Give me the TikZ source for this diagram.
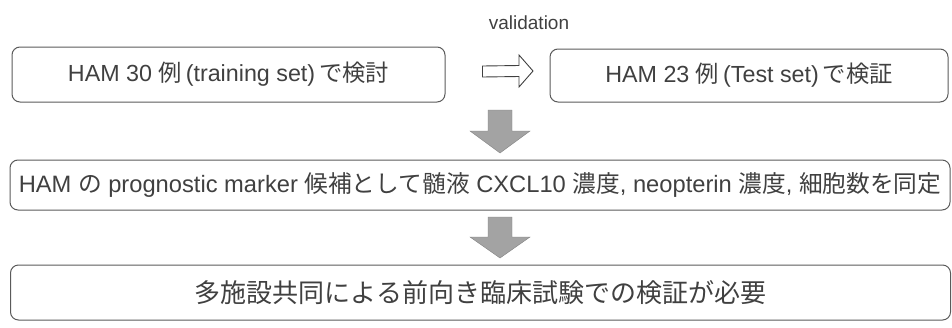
\documentclass[tikz,border=0pt]{standalone}
\usepackage{fontspec}
\setmainfont{Liberation Sans}
\newfontfamily\jp{Noto Sans CJK JP}
\usetikzlibrary{calc}
\definecolor{ink}{HTML}{404040}
\definecolor{frame}{HTML}{5A5A5A}
\definecolor{arrowfill}{HTML}{A3A3A3}
\tikzset{
  stagebox/.style={draw=frame, line width=1pt, rounded corners=8pt, text=ink,
    inner sep=0pt, anchor=center},
  blockarrow/.style={fill=arrowfill, draw=arrowfill!80!black, line width=0.4pt},
  hollowarrow/.style={draw=ink, line width=0.9pt, fill=white, line join=miter},
}
\begin{document}
\begin{tikzpicture}[x=1pt,y=-1pt]
  \useasboundingbox (0,0) rectangle (952,327);

  % caption above the comparison arrow
  \node[text=ink, font=\fontsize{19}{22}\selectfont] (val) at (529,23) {validation};

  % stage boxes
  \node[stagebox, minimum width=433pt, minimum height=55pt,
        font=\fontsize{23.3}{27}\selectfont] (train) at (228.5,74.5)
        {HAM 30 {\jp 例}\,(training set)\,{\jp で検討}};
  \node[stagebox, minimum width=398pt, minimum height=53pt,
        font=\fontsize{23.3}{27}\selectfont] (test) at (749,75.5)
        {HAM 23 {\jp 例}\,(Test set)\,{\jp で検証}};
  \node[stagebox, minimum width=940pt, minimum height=50pt,
        font=\fontsize{23.7}{27}\selectfont] (marker) at (480,185)
        {HAM {\jp の} prognostic marker {\jp 候補として髄液} CXCL10 {\jp 濃度}, neopterin {\jp 濃度}, {\jp 細胞数を同定}};
  \node[stagebox, minimum width=940pt, minimum height=55pt,
        font=\fontsize{26}{30}\selectfont\jp] (trial) at (480.5,292.5)
        {多施設共同による前向き臨床試験での検証が必要};

  % hollow arrow from the training box to the test box
  \coordinate (h0) at ($(train.east)+(37,-3)$);
  \coordinate (h1) at (533,71);
  \draw[hollowarrow] ($(h0)+(0,-5.5)$) -- ($(h1)+(-14,-5.5)$) -- ($(h1)+(-14,-16)$)
    -- (h1) -- ($(h1)+(-14,16)$) -- ($(h1)+(-14,5.5)$) -- ($(h0)+(0,5.5)$) -- cycle;

  % grey block arrows between the stages
  \coordinate (a0) at (500,110);
  \coordinate (a1) at (500,153);
  \fill[blockarrow] ($(a0)+(-12,0)$) -- ($(a0)+(12,0)$) -- ($(a1)+(12,-22)$)
    -- ($(a1)+(30,-22)$) -- (a1) -- ($(a1)+(-30,-22)$) -- ($(a1)+(-12,-22)$) -- cycle;
  \coordinate (b0) at (500,217);
  \coordinate (b1) at (500,258);
  \fill[blockarrow] ($(b0)+(-12,0)$) -- ($(b0)+(12,0)$) -- ($(b1)+(12,-21)$)
    -- ($(b1)+(30,-21)$) -- (b1) -- ($(b1)+(-30,-21)$) -- ($(b1)+(-12,-21)$) -- cycle;
\end{tikzpicture}
\end{document}
